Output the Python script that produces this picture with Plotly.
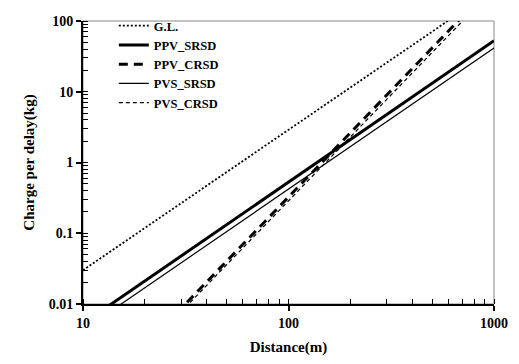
import plotly.graph_objects as go

# Data (values at the x-range ends; lines are straight in log-log)
distance = [10, 1000]
gl = [0.03, 280]
ppv_srsd = [0.0053, 52.5]
ppv_crsd = [0.000314, 336]
pvs_srsd = [0.00426, 41.4]
pvs_crsd = [0.000287, 287]

series = [
    ("G.L.", gl, dict(color="black", width=1.8, dash="2px,2px")),
    ("PPV_SRSD", ppv_srsd, dict(color="black", width=3, dash="solid")),
    ("PPV_CRSD", ppv_crsd, dict(color="black", width=3, dash="9px,6px")),
    ("PVS_SRSD", pvs_srsd, dict(color="black", width=1.2, dash="solid")),
    ("PVS_CRSD", pvs_crsd, dict(color="black", width=1.2, dash="4px,3px")),
]

x_ticks = [10, 100, 1000]
x_ticktext = ["10", "100", "1000"]
y_ticks = [0.01, 0.1, 1, 10, 100]
y_ticktext = ["0.01", "0.1", "1", "10", "100"]

FONT = "Liberation Serif"

fig = go.Figure()
for name, vals, line in series:
    fig.add_trace(go.Scatter(x=distance, y=vals, mode="lines", name=name, line=line))

axis_common = dict(
    type="log",
    showline=True, linecolor="black", linewidth=2,
    showgrid=False, zeroline=False,
    ticks="outside", ticklen=5, tickwidth=1.5, tickcolor="black",
    tickfont=dict(family=FONT, size=14, color="black", weight="bold"),
    minor=dict(ticks="inside", ticklen=5, tickwidth=1, tickcolor="black", dtick="D1", showgrid=False),
)

fig.update_xaxes(
    range=[1, 3], tickvals=x_ticks, ticktext=x_ticktext,
    title=dict(text="Distance(m)", font=dict(family=FONT, size=15, color="black", weight="bold"), standoff=12),
    **axis_common,
)
fig.update_yaxes(
    range=[-2, 2], tickvals=y_ticks, ticktext=y_ticktext,
    title=dict(text="Charge per delay(kg)", font=dict(family=FONT, size=15, color="black", weight="bold"), standoff=10),
    **axis_common,
)

fig.add_shape(type="rect", xref="paper", yref="paper", x0=0, y0=0, x1=1, y1=1,
              line=dict(color="#888888", width=1), layer="below")

fig.update_layout(
    width=519, height=364,
    margin=dict(l=83, r=20, t=11, b=57),
    paper_bgcolor="white", plot_bgcolor="white",
    showlegend=True,
    legend=dict(x=0.075, y=1.035, xanchor="left", yanchor="top",
                bgcolor="rgba(0,0,0,0)", borderwidth=0,
                font=dict(family=FONT, size=12.5, color="black", weight="bold"),
                tracegroupgap=0, itemwidth=30),
)

fig.write_html("out.html")
